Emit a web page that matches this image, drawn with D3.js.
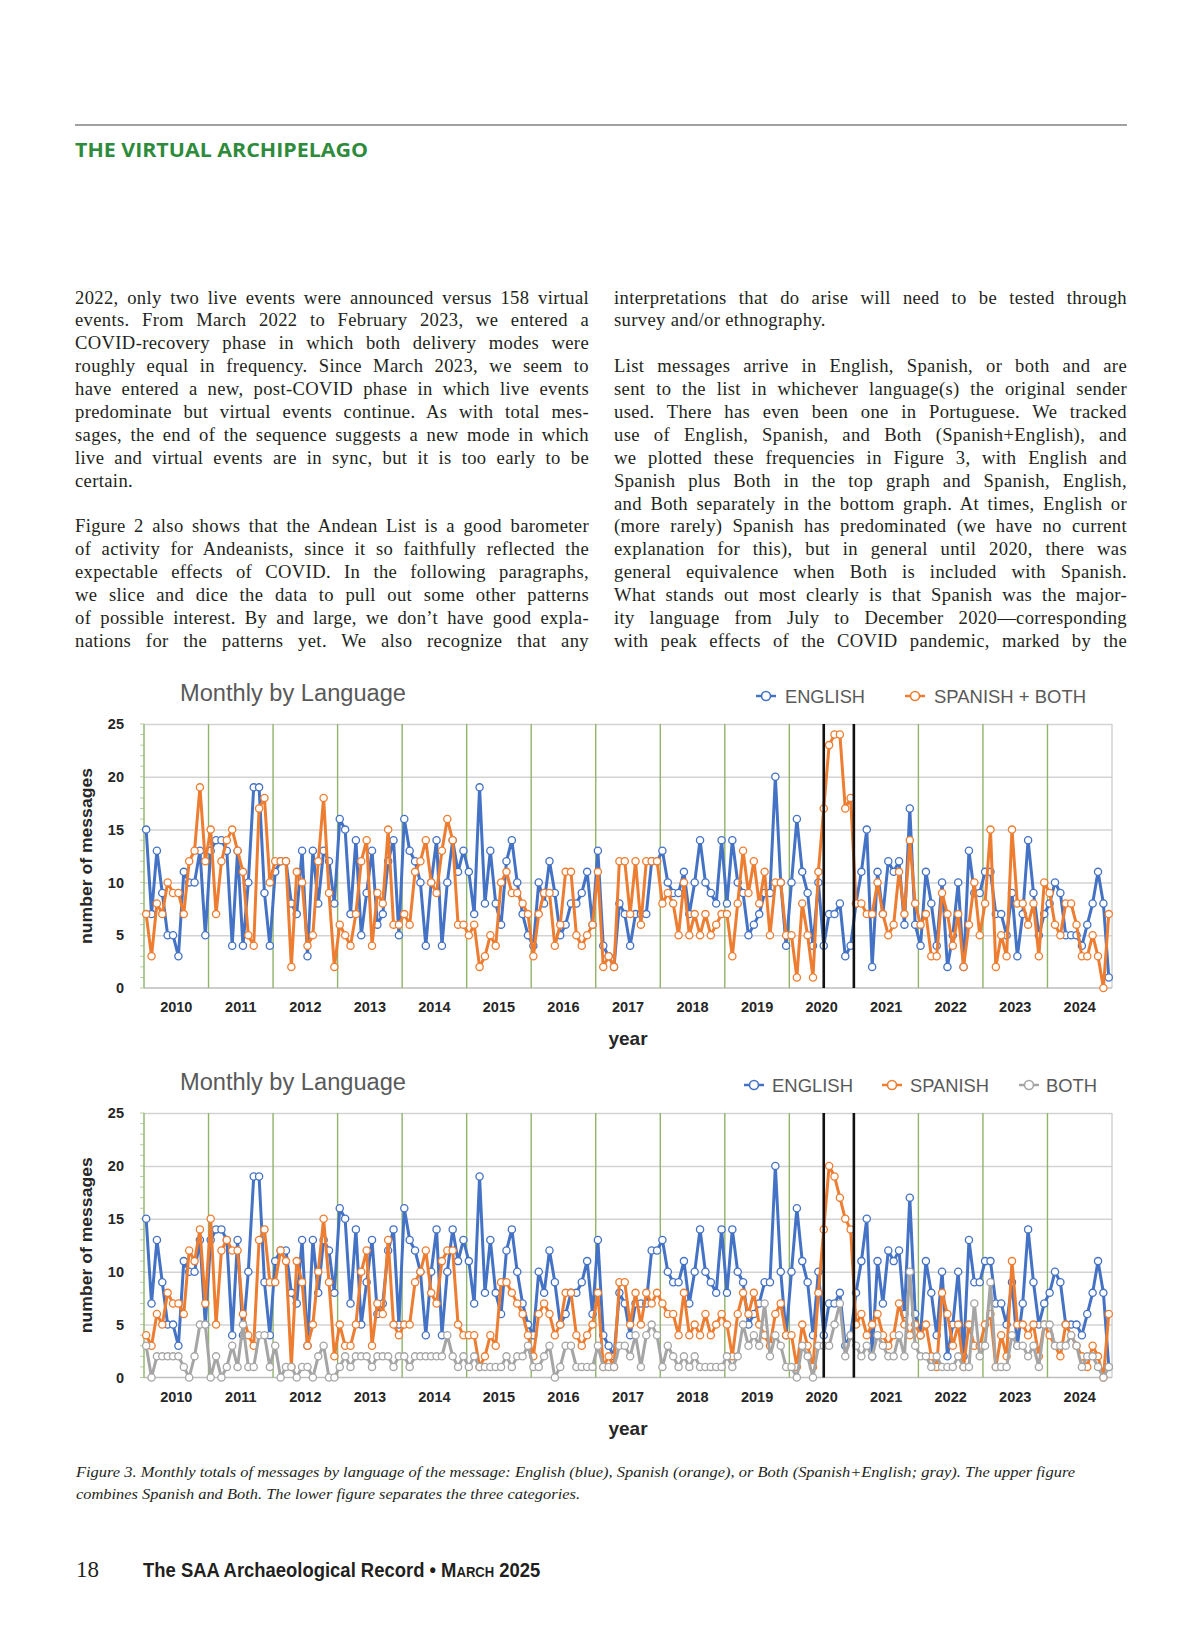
<!DOCTYPE html>
<html>
<head>
<meta charset="utf-8">
<script src="https://cdn.jsdelivr.net/npm/d3@7"></script>
<style>
  body { margin: 0; background: #fff; }
  #page { position: relative; width: 1200px; height: 1631px; overflow: hidden; }
  #page svg { position: absolute; left: 0; top: 0; }
  .col { position: absolute; font-family: "Liberation Serif", "DejaVu Serif", serif; font-size: 18.6px; letter-spacing: 0.35px; color: #231f20; }
  .col div { height: 22.9px; line-height: 22.9px; white-space: nowrap; }
</style>
</head>
<body>
<div id="page"></div>
<script>
// ---- data ----
const years = d3.range(2010, 2025);

const english = [
  15,7,13,9,5,5,3,11,10,10,13,5,
  13,14,14,13,4,13,4,10,19,19,9,4,
  11,12,12,8,7,13,3,13,8,13,12,8,
  16,15,7,14,5,9,13,6,7,12,14,5,
  16,13,12,10,4,10,14,4,10,14,11,13,
  11,7,19,8,13,8,6,12,14,10,7,5,
  4,10,8,12,9,5,6,8,8,9,11,6,
  13,4,3,2,8,7,4,7,7,7,12,12,
  13,10,9,9,11,7,10,14,10,9,8,14,
  8,14,10,9,5,6,7,9,9,20,10,4,
  10,16,11,9,4,10,4,7,7,8,3,4,
  8,11,15,2,11,7,12,11,12,6,17,6,
  4,11,8,4,10,2,5,10,2,13,9,9,
  11,11,7,7,5,9,3,7,14,9,5,7,
  8,10,9,5,5,5,4,6,8,11,8,1
];

const spanishBoth = [
  7,3,8,7,10,9,9,7,12,13,19,12,
  15,7,12,14,15,13,11,5,4,17,18,10,
  12,12,12,2,11,10,4,5,12,18,9,2,
  6,5,4,7,12,14,4,9,8,15,6,6,
  7,6,11,12,14,10,9,13,16,14,6,6,
  5,6,2,3,5,4,10,11,9,9,8,7,
  3,7,9,9,4,6,11,11,5,4,5,6,
  11,2,3,2,12,12,7,12,6,12,12,12,
  8,9,8,5,10,5,7,5,7,5,6,7,
  7,3,8,13,9,12,8,11,5,10,10,5,
  5,1,8,5,1,11,17,23,24,24,17,18,
  8,8,7,7,10,7,5,6,11,7,14,8,
  6,7,3,3,9,7,4,7,2,6,10,5,
  8,15,2,5,3,15,8,8,6,8,3,10,
  9,6,5,8,8,6,3,3,5,3,0,7
];

const spanish = [
  4,3,6,5,8,7,7,6,12,11,14,7,
  15,5,12,13,12,12,6,4,3,13,14,9,
  9,12,11,1,11,9,3,5,10,15,9,2,
  5,3,3,5,10,12,3,7,6,13,5,4,
  5,5,9,10,12,8,7,11,12,12,5,4,
  4,4,1,2,4,3,9,9,8,7,6,4,
  2,6,7,6,4,5,8,8,4,3,4,5,
  8,1,2,1,9,9,5,8,5,8,7,8,
  7,6,6,4,8,4,5,4,6,4,5,6,
  5,2,6,8,6,8,5,4,3,6,7,4,
  4,1,5,3,1,8,14,20,19,17,15,14,
  5,6,4,5,6,4,3,4,7,5,4,5,
  4,5,2,1,8,6,3,5,1,5,3,3,
  5,6,1,4,2,11,5,5,4,5,2,5,
  4,3,2,5,4,3,2,1,3,2,0,6
];

const both = [
  3,0,2,2,2,2,2,1,0,2,5,5,
  0,2,0,1,3,1,5,1,1,4,4,1,
  3,0,1,1,0,1,1,0,2,3,0,0,
  1,2,1,2,2,2,1,2,2,2,1,2,
  2,1,2,2,2,2,2,2,4,2,1,2,
  1,2,1,1,1,1,1,2,1,2,2,3,
  1,1,2,3,0,1,3,3,1,1,1,1,
  3,1,1,1,3,3,2,4,1,4,5,4,
  1,3,2,1,2,1,2,1,1,1,1,1,
  2,1,2,5,3,4,3,7,2,4,3,1,
  1,0,3,2,0,3,3,3,5,7,2,4,
  3,2,3,2,4,3,2,2,4,2,10,3,
  2,2,1,2,1,1,1,2,1,1,7,2,
  3,9,1,1,1,4,3,3,2,3,1,5,
  5,3,3,3,4,3,1,2,2,1,0,1
];

const yTicks = [0, 5, 10, 15, 20, 25];
// black markers bracketing Jul-Dec 2020, in months counted from Jan 2010
const covidMarks = [126.4, 132];

const leftLines = [
  ["2022, only two live events were announced versus 158 virtual", true],
  ["events. From March 2022 to February 2023, we entered a", true],
  ["COVID-recovery phase in which both delivery modes were", true],
  ["roughly equal in frequency. Since March 2023, we seem to", true],
  ["have entered a new, post-COVID phase in which live events", true],
  ["predominate but virtual events continue. As with total mes-", true],
  ["sages, the end of the sequence suggests a new mode in which", true],
  ["live and virtual events are in sync, but it is too early to be", true],
  ["certain.", false],
  ["", false],
  ["Figure 2 also shows that the Andean List is a good barometer", true],
  ["of activity for Andeanists, since it so faithfully reflected the", true],
  ["expectable effects of COVID. In the following paragraphs,", true],
  ["we slice and dice the data to pull out some other patterns", true],
  ["of possible interest. By and large, we don\u2019t have good expla-", true],
  ["nations for the patterns yet. We also recognize that any", true]
];
const rightLines = [
  ["interpretations that do arise will need to be tested through", true],
  ["survey and/or ethnography.", false],
  ["", false],
  ["List messages arrive in English, Spanish, or both and are", true],
  ["sent to the list in whichever language(s) the original sender", true],
  ["used. There has even been one in Portuguese. We tracked", true],
  ["use of English, Spanish, and Both (Spanish+English), and", true],
  ["we plotted these frequencies in Figure 3, with English and", true],
  ["Spanish plus Both in the top graph and Spanish, English,", true],
  ["and Both separately in the bottom graph. At times, English or", true],
  ["(more rarely) Spanish has predominated (we have no current", true],
  ["explanation for this), but in general until 2020, there was", true],
  ["general equivalence when Both is included with Spanish.", true],
  ["What stands out most clearly is that Spanish was the major-", true],
  ["ity language from July to December 2020\u2014corresponding", true],
  ["with peak effects of the COVID pandemic, marked by the", true]
];

// ---- drawing ----
const page = d3.select('#page');
const svg = page.append('svg').attr('width', 1200).attr('height', 1631);

// header
svg.append('line').attr('x1', 75).attr('x2', 1127).attr('y1', 125).attr('y2', 125)
  .attr('stroke', '#444').attr('stroke-width', 1.2);
svg.append('text').attr('x', 75).attr('y', 157)
  .attr('font-family', '"Open Sans", "Liberation Sans", sans-serif').attr('font-weight', 700)
  .attr('font-size', 19).attr('fill', '#2e8b3c')
  .attr('textLength', 293).attr('lengthAdjust', 'spacingAndGlyphs')
  .text('THE VIRTUAL ARCHIPELAGO');

// body columns: every line justified by hand so the breaks match the page
function column(lines, left, width) {
  const c = page.append('div').attr('class', 'col')
    .style('left', left + 'px').style('top', '286.5px').style('width', width + 'px');
  lines.forEach(([t, j]) => {
    const s = c.append('div').append('span').text(t || '\u00a0');
    if (!j) return;
    const w = s.node().getBoundingClientRect().width;
    const spaces = (t.match(/ /g) || []).length;
    const extra = width - w;
    if (extra >= 0 && spaces) s.style('word-spacing', (extra / spaces) + 'px');
    else s.style('letter-spacing', (0.35 + extra / t.length) + 'px');
  });
}
column(leftLines, 75, 514);
column(rightLines, 614, 513);

// charts
const X0 = 144, X1 = 1112;
const x = d3.scaleLinear().domain([0, 180]).range([X0, X1]);
const px = i => x(i + 0.4);
const yearBand = d3.scaleBand().domain(years).range([X0, X1]);
const SANS = '"Liberation Sans", Arial, sans-serif';

function chart(top, bot, series, legend) {
  const y = d3.scaleLinear().domain([0, 25]).range([bot, top]);
  const g = svg.append('g');

  // horizontal gridlines
  const grid = g.append('g').attr('transform', `translate(${X0},0)`)
    .call(d3.axisLeft(y).tickValues(yTicks.slice(1)).tickSize(-(X1 - X0)).tickFormat(''));
  grid.select('.domain').remove();
  grid.selectAll('line').attr('stroke', '#d3d3d3').attr('stroke-width', 1.5);

  // minor ticks on the value axis
  g.selectAll('line.minor').data(d3.range(0, 26)).join('line')
    .attr('x1', X0 - 4).attr('x2', X0).attr('y1', d => y(d)).attr('y2', d => y(d))
    .attr('stroke', '#b9cf9f').attr('stroke-width', 1);

  // zero line and right border
  g.append('line').attr('x1', X0).attr('x2', X1).attr('y1', y(0)).attr('y2', y(0))
    .attr('stroke', '#bdbdbd').attr('stroke-width', 1.5);
  g.append('line').attr('x1', X1).attr('x2', X1).attr('y1', y(25)).attr('y2', y(0))
    .attr('stroke', '#c8c8c8').attr('stroke-width', 1.2);

  // year separators
  g.selectAll('line.yr').data(years).join('line')
    .attr('x1', d => yearBand(d)).attr('x2', d => yearBand(d))
    .attr('y1', y(25)).attr('y2', y(0))
    .attr('stroke', '#8fb46a').attr('stroke-width', 1.4);

  // y labels
  const ya = g.append('g').attr('transform', `translate(${X0 - 20},0)`)
    .call(d3.axisLeft(y).tickValues(yTicks).tickSize(0).tickPadding(0));
  ya.select('.domain').remove();
  ya.selectAll('text').attr('font-family', SANS).attr('font-weight', 700)
    .attr('font-size', 14.5).attr('fill', '#262626');

  // x labels
  const xa = g.append('g').attr('transform', `translate(0,${bot + 14})`)
    .call(d3.axisBottom(yearBand).tickSize(0).tickPadding(0));
  xa.select('.domain').remove();
  xa.selectAll('text').attr('font-family', SANS).attr('font-weight', 700)
    .attr('font-size', 14.5).attr('fill', '#262626');

  // axis titles
  g.append('text').attr('x', 628).attr('y', bot + 57).attr('text-anchor', 'middle')
    .attr('font-family', SANS).attr('font-weight', 700).attr('font-size', 19).attr('fill', '#262626')
    .text('year');
  g.append('text').attr('transform', `translate(92,${(top + bot) / 2}) rotate(-90)`)
    .attr('text-anchor', 'middle').attr('font-family', SANS).attr('font-weight', 700)
    .attr('font-size', 17).attr('fill', '#262626')
    .attr('textLength', 176).attr('lengthAdjust', 'spacingAndGlyphs')
    .text('number of messages');

  // chart title
  g.append('text').attr('x', 180).attr('y', top - 23)
    .attr('font-family', SANS).attr('font-size', 23.5).attr('fill', '#595959')
    .attr('textLength', 226).attr('lengthAdjust', 'spacingAndGlyphs')
    .text('Monthly by Language');

  // series
  const line = d3.line().x((d, i) => px(i)).y(d => y(d));
  series.forEach(s => {
    g.append('path').datum(s.values).attr('d', line)
      .attr('fill', 'none').attr('stroke', s.color).attr('stroke-width', 3)
      .attr('stroke-linejoin', 'round');
    g.append('g').selectAll('circle').data(s.values).join('circle')
      .attr('cx', (d, i) => px(i)).attr('cy', d => y(d)).attr('r', 3.6)
      .attr('fill', '#fff').attr('stroke', s.color).attr('stroke-width', 1.3);
  });

  // black markers for Jul-Dec 2020
  g.selectAll('line.covid').data(covidMarks).join('line')
    .attr('x1', d => x(d)).attr('x2', d => x(d))
    .attr('y1', y(25)).attr('y2', y(0))
    .attr('stroke', '#111').attr('stroke-width', 2.6);

  // legend
  legend.forEach(l => {
    const ly = top - 28;
    g.append('line').attr('x1', l.mx - 10).attr('x2', l.mx + 10).attr('y1', ly).attr('y2', ly)
      .attr('stroke', l.color).attr('stroke-width', 2.5);
    g.append('circle').attr('cx', l.mx).attr('cy', ly).attr('r', 4.5)
      .attr('fill', '#fff').attr('stroke', l.color).attr('stroke-width', 1.6);
    g.append('text').attr('x', l.tx).attr('y', ly + 6.5)
      .attr('font-family', SANS).attr('font-size', 17.5).attr('fill', '#595959')
      .attr('textLength', l.w).attr('lengthAdjust', 'spacingAndGlyphs')
      .text(l.label);
  });
}

const BLUE = '#4472c4', ORANGE = '#ed7d31', GRAY = '#a5a5a5';

chart(724, 988,
  [{ values: english, color: BLUE }, { values: spanishBoth, color: ORANGE }],
  [{ label: 'ENGLISH', color: BLUE, mx: 766, tx: 785, w: 80 },
   { label: 'SPANISH + BOTH', color: ORANGE, mx: 915, tx: 934, w: 152 }]);

chart(1113, 1377.5,
  [{ values: english, color: BLUE }, { values: spanish, color: ORANGE }, { values: both, color: GRAY }],
  [{ label: 'ENGLISH', color: BLUE, mx: 754, tx: 772, w: 81 },
   { label: 'SPANISH', color: ORANGE, mx: 892, tx: 910, w: 79 },
   { label: 'BOTH', color: GRAY, mx: 1029, tx: 1046, w: 51 }]);

// caption
const cap = svg.append('g').attr('font-family', '"Liberation Serif", serif')
  .attr('font-style', 'italic').attr('font-size', 15).attr('fill', '#231f20');
cap.append('text').attr('x', 76).attr('y', 1477)
  .attr('textLength', 999).attr('lengthAdjust', 'spacingAndGlyphs')
  .text('Figure 3. Monthly totals of messages by language of the message: English (blue), Spanish (orange), or Both (Spanish+English; gray). The upper figure');
cap.append('text').attr('x', 76).attr('y', 1499)
  .attr('textLength', 504).attr('lengthAdjust', 'spacingAndGlyphs')
  .text('combines Spanish and Both. The lower figure separates the three categories.');

// footer: one text run, squeezed horizontally to the printed width
svg.append('text').attr('x', 76).attr('y', 1577)
  .attr('font-family', '"Liberation Serif", serif').attr('font-size', 23).attr('fill', '#231f20')
  .text('18');
const foot = svg.append('text')
  .attr('font-family', '"Liberation Sans Narrow", "Liberation Sans", sans-serif')
  .attr('font-weight', 700).attr('font-size', 21).attr('fill', '#231f20');
foot.append('tspan').text('The SAA Archaeological Record \u2022 ');
foot.append('tspan').attr('font-variant', 'small-caps').text('March');
foot.append('tspan').text(' 2025');
const fw = foot.node().getComputedTextLength();
foot.attr('transform', `translate(143,1577) scale(${398 / fw},1)`);
</script>
</body>
</html>
